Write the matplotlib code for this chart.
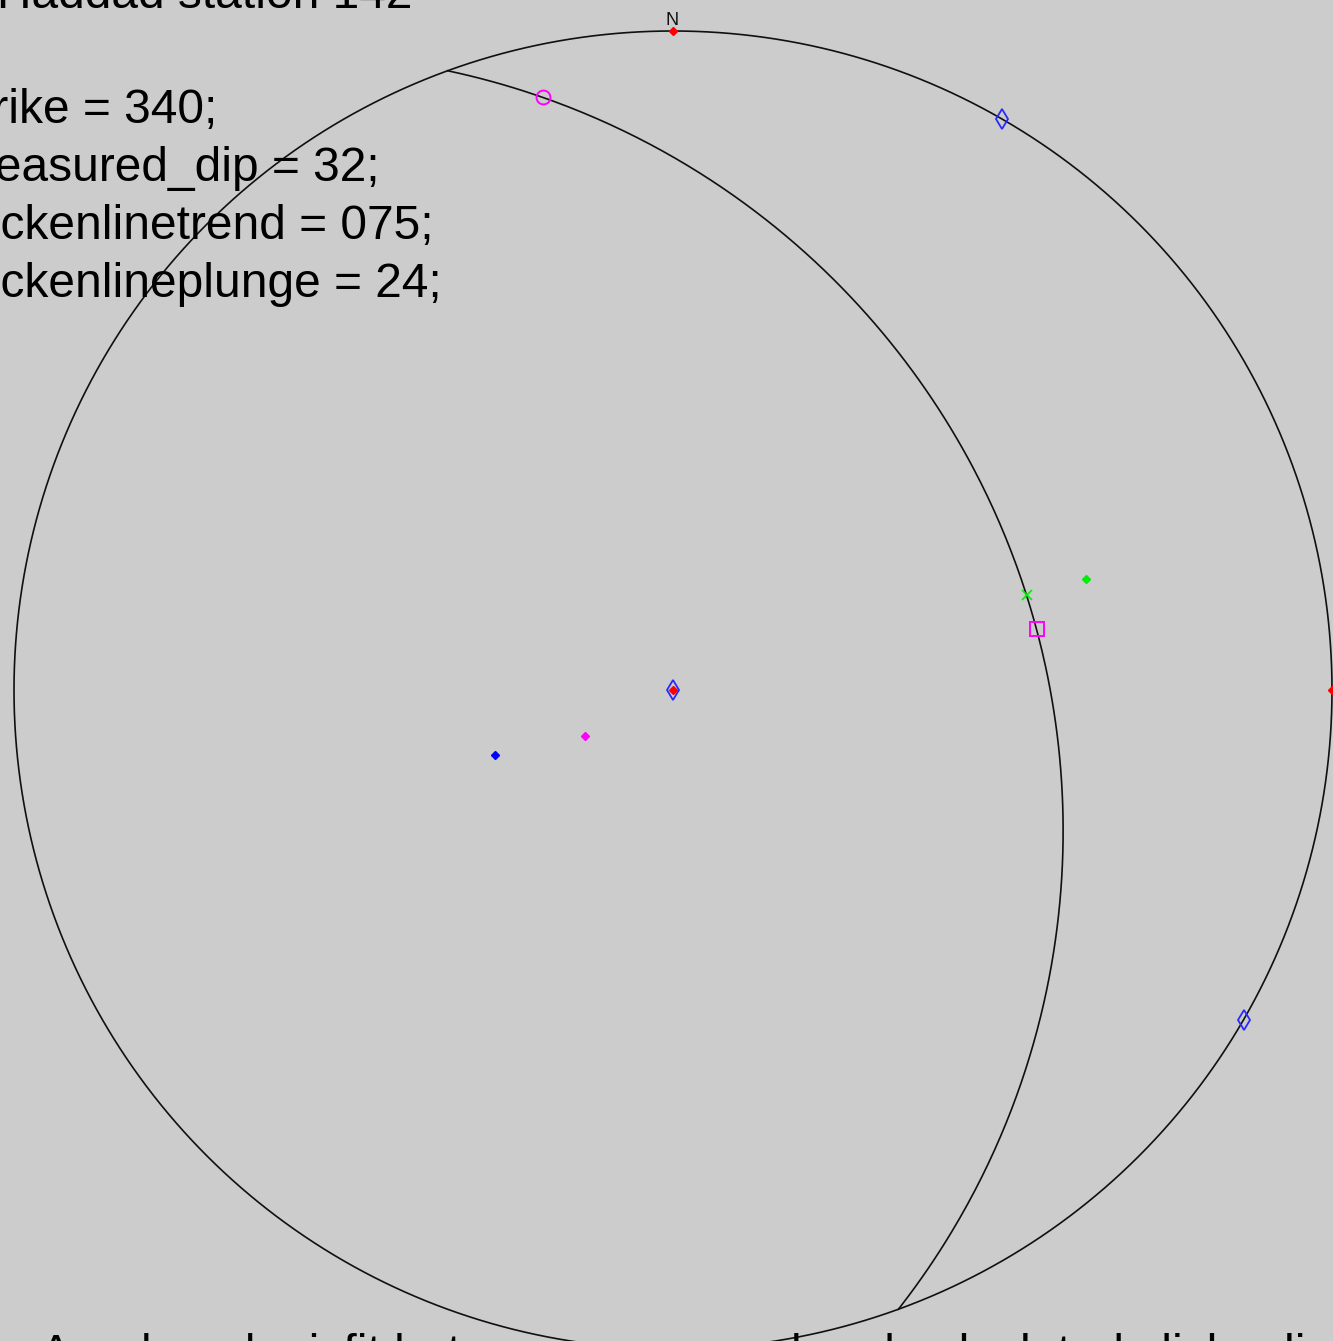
import numpy as np
import matplotlib
matplotlib.use("Agg")
import matplotlib.pyplot as plt

# --- measurement for the station ---
station_title = "Haddad station 142"
strike = 340
measured_dip = 32
slickenline_trend = 75
slickenline_plunge = 24

info_lines = [
    "strike = 340;",
    "measured_dip = 32;",
    "slickenlinetrend = 075;",
    "slickenlineplunge = 24;",
]
footer = "A reduced misfit between measured and calculated slickenline directions"

# reference marks (trend, plunge): north, east, vertical
ref_trend = [0, 90, 0]
ref_plunge = [0, 0, 90]

# principal axes (trend, plunge)
axes_trend = [30, 120, 0]
axes_plunge = [0, 0, 90]

# pole to the plane and rotated pole
pole_trend, pole_plunge = 250, 58
rot_pole_trend, rot_pole_plunge = 242.4, 72.9

# slickenline projected onto the plane, calculated slip and null direction
slick_on_plane_trend, slick_on_plane_plunge = 75, 31.9
calc_slip_trend, calc_slip_plunge = 80.5, 31.5
null_trend, null_plunge = 347.6, 4.7

W, H = 1333, 1341
CX, CY, R = 673, 690, 659
BG = "#cccccc"
INK = "#101010"


def proj(trend, plunge):
    """Lower-hemisphere stereographic projection, unit primitive."""
    t = np.radians(np.asarray(trend, float))
    p = np.radians(np.asarray(plunge, float))
    r = np.tan((np.pi / 2 - p) / 2)
    return r * np.sin(t), r * np.cos(t)


fig = plt.figure(figsize=(W / 100, H / 100), dpi=100, facecolor=BG)
ax = fig.add_axes([0, 0, 1, 1])
ax.set_facecolor(BG)
ax.set_xlim(-CX / R, (W - CX) / R)
ax.set_ylim(-(H - CY) / R, CY / R)
ax.set_aspect("equal")
ax.axis("off")

# primitive circle
th = np.linspace(0, 2 * np.pi, 721)
ax.plot(np.sin(th), np.cos(th), color=INK, lw=1.2)

# great circle of the measured plane
dd = np.radians(strike + 90)
s_vec = np.array([np.sin(np.radians(strike)), np.cos(np.radians(strike)), 0.0])
d_vec = np.array([np.cos(np.radians(measured_dip)) * np.sin(dd),
                  np.cos(np.radians(measured_dip)) * np.cos(dd),
                  np.sin(np.radians(measured_dip))])
a = np.radians(np.linspace(0, 180, 361))
v = np.outer(np.cos(a), s_vec) + np.outer(np.sin(a), d_vec)
gc_trend = np.degrees(np.arctan2(v[:, 0], v[:, 1]))
gc_plunge = np.degrees(np.arcsin(np.clip(v[:, 2], -1, 1)))
gx, gy = proj(gc_trend, gc_plunge)
ax.plot(gx, gy, color=INK, lw=1.2)

# principal axes: open blue diamonds
x, y = proj(axes_trend, axes_plunge)
ax.plot(x, y, "d", ms=10.5, mfc="none", mec="#2a2aff", mew=1.3, ls="none", zorder=3)

# reference marks
x, y = proj(ref_trend, ref_plunge)
ax.plot(x, y, "D", ms=4.5, color="#ff0000", ls="none", zorder=4)

# poles
x, y = proj(pole_trend, pole_plunge)
ax.plot(x, y, "D", ms=4.5, color="#0000ff", zorder=4)
x, y = proj(rot_pole_trend, rot_pole_plunge)
ax.plot(x, y, "D", ms=4.5, color="#ff00ff", zorder=4)

# slickenline
x, y = proj(slickenline_trend, slickenline_plunge)
ax.plot(x, y, "D", ms=4.5, color="#00ee00", zorder=4)
x, y = proj(slick_on_plane_trend, slick_on_plane_plunge)
ax.plot(x, y, "x", ms=7, color="#00ee00", mew=1.2, zorder=4)

# calculated slip direction and null direction on the plane
x, y = proj(calc_slip_trend, calc_slip_plunge)
ax.plot(x, y, "s", ms=10, mfc="none", mec="#ff00ff", mew=1.4, zorder=4)
x, y = proj(null_trend, null_plunge)
ax.plot(x, y, "o", ms=10, mfc="none", mec="#ff00ff", mew=1.4, zorder=4)

# north label
fig.text(672 / W, 1 - 25 / H, "N", ha="center", va="baseline",
         fontsize=13, family="Liberation Sans", color=INK)

# text block
font = dict(fontsize=34.5, family="Liberation Sans", color="black",
            ha="left", va="baseline")
fig.text(-3 / W, 1 - 8 / H, station_title, **font)
for i, line in enumerate(info_lines):
    fig.text(-45 / W, 1 - (123 + 58 * i) / H, line, **font)
fig.text(40 / W, 1 - 1368 / H, footer, **font)

fig.savefig("out.png", dpi=100, facecolor=BG)
